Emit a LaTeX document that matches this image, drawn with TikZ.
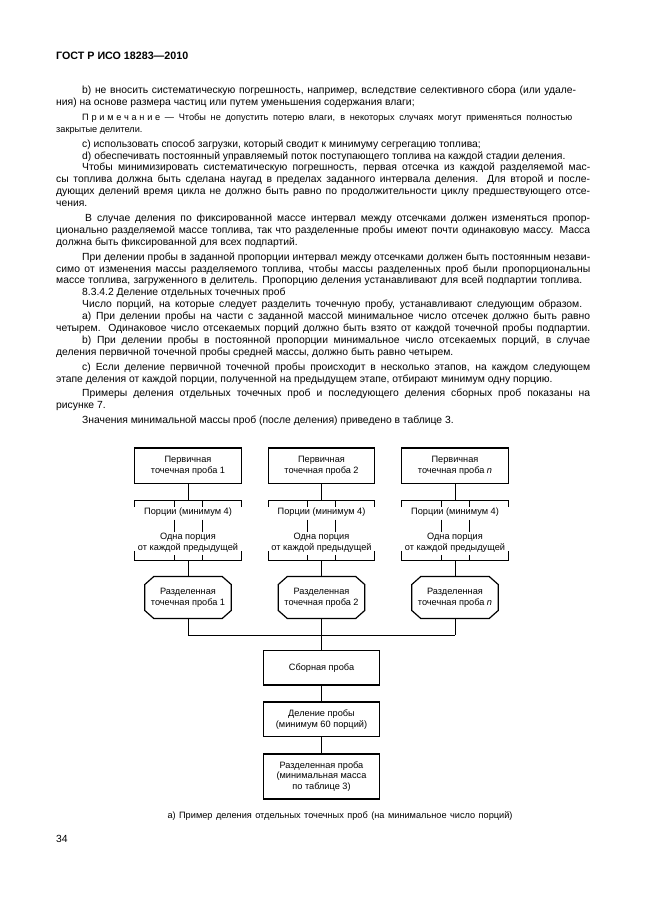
\documentclass[tikz,border=0pt]{standalone}
\usepackage{fontspec}
\setmainfont{Liberation Sans}
\newcommand\bodyfont{\fontsize{10.35}{11.9}\selectfont}
\newcommand\notefont{\fontsize{9.2}{11}\selectfont}
\newcommand\boxfont{\fontsize{9.2}{10.6}\selectfont}
\newcommand\fullline[2][534pt]{\makebox[#1][s]{#2}}
\newcommand\ind{\hspace*{26pt}}

\tikzset{
  txtline/.style={anchor=base west, inner sep=0pt, font=\bodyfont},
  noteline/.style={txtline, font=\notefont},
  boxline/.style={draw, line width=1.2pt},
  firstbox/.style={boxline, minimum width=106.7pt, minimum height=35.3pt, inner sep=0pt, align=center, font=\boxfont},
  sumbox/.style={firstbox, minimum width=116pt, minimum height=34.3pt},
  octbox/.style={minimum width=86pt, minimum height=41.6pt, inner sep=0pt, align=center, font=\boxfont},
  wordbox/.style={inner sep=0pt, align=center, font=\boxfont},
  link/.style={line width=0.9pt},
}

\begin{document}
\begin{tikzpicture}[x=1pt, y=-1pt]
	\fill[white] (0,0) rectangle (646,913);
	\useasboundingbox (0,0) rectangle (646,913);
	\node[txtline, font=\fontsize{10.7}{12}\selectfont\bfseries] (head) at (56,59) {ГОСТ Р ИСО 18283—2010};
	% text of the page
	\node[txtline] (t1) at (56,93.6) {\fullline[520pt]{\ind b) не вносить систематическую погрешность, например, вследствие селективного сбора (или удале-}};
	\node[txtline] (t2) at (56,105.5) {ния) на основе размера частиц или путем уменьшения содержания влаги;};
	\node[noteline] (t3) at (56,120.4) {\fullline[516pt]{\ind{\addfontfeature{LetterSpace=30}Примечание} — Чтобы не допустить потерю влаги, в некоторых случаях могут применяться полностью}};
	\node[noteline] (t4) at (56,132.3) {закрытые делители.};
	\node[txtline] (t5) at (56,147.1) {\ind c) использовать способ загрузки, который сводит к минимуму сегрегацию топлива;};
	\node[txtline] (t6) at (56,159) {\ind d) обеспечивать постоянный управляемый поток поступающего топлива на каждой стадии деления.};
	\node[txtline] (t7) at (56,170.9) {\fullline{\ind Чтобы минимизировать систематическую погрешность, первая отсечка из каждой разделяемой мас-}};
	\node[txtline] (t8) at (56,182.8) {\fullline{сы топлива должна быть сделана наугад в пределах заданного интервала деления. Для второй и после-}};
	\node[txtline] (t9) at (56,194.7) {\fullline{дующих делений время цикла не должно быть равно по продолжительности циклу предшествующего отсе-}};
	\node[txtline] (t10) at (56,206.6) {чения.};
	\node[txtline] (t11) at (56,221.5) {\fullline{\ind\hspace*{3pt}В случае деления по фиксированной массе интервал между отсечками должен изменяться пропор-}};
	\node[txtline] (t12) at (56,233.4) {\fullline{ционально разделяемой массе топлива, так что разделенные пробы имеют почти одинаковую массу. Масса}};
	\node[txtline] (t13) at (56,245.3) {должна быть фиксированной для всех подпартий.};
	\node[txtline] (t14) at (56,260.1) {\fullline{\ind При делении пробы в заданной пропорции интервал между отсечками должен быть постоянным незави-}};
	\node[txtline] (t15) at (56,272) {\fullline{симо от изменения массы разделяемого топлива, чтобы массы разделенных проб были пропорциональны}};
	\node[txtline] (t16) at (56,283.9) {\fullline[526pt]{массе топлива, загруженного в делитель. Пропорцию деления устанавливают для всей подпартии топлива.}};
	\node[txtline] (t17) at (56,295.8) {\ind 8.3.4.2 Деление отдельных точечных проб};
	\node[txtline] (t18) at (56,307.7) {\fullline[526pt]{\ind Число порций, на которые следует разделить точечную пробу, устанавливают следующим образом.}};
	\node[txtline] (t19) at (56,319.6) {\fullline{\ind а) При делении пробы на части с заданной массой минимальное число отсечек должно быть равно}};
	\node[txtline] (t20) at (56,331.5) {\fullline{четырем. Одинаковое число отсекаемых порций должно быть взято от каждой точечной пробы подпартии.}};
	\node[txtline] (t21) at (56,343.4) {\fullline{\ind b) При делении пробы в постоянной пропорции минимальное число отсекаемых порций, в случае}};
	\node[txtline] (t22) at (56,355.3) {деления первичной точечной пробы средней массы, должно быть равно четырем.};
	\node[txtline] (t23) at (56,370.2) {\fullline{\ind с) Если деление первичной точечной пробы происходит в несколько этапов, на каждом следующем}};
	\node[txtline] (t24) at (56,382.1) {этапе деления от каждой порции, полученной на предыдущем этапе, отбирают минимум одну порцию.};
	\node[txtline] (t25) at (56,396.9) {\fullline{\ind Примеры деления отдельных точечных проб и последующего деления сборных проб показаны на}};
	\node[txtline] (t26) at (56,408.8) {рисунке 7.};
	\node[txtline] (t27) at (56,423.7) {\ind Значения минимальной массы проб (после деления) приведено в таблице 3.};
	% figure 7 a)
	\foreach \i/\x/\lbl in {1/188/1, 2/321.5/2, 3/455/{\textit{n}}} {
		\node[firstbox] (prim\i) at (\x,465.7) {Первичная\\точечная проба \lbl};
		\coordinate (bt\i) at (\x,500);
		\node[wordbox] (por\i) at (\x,512.5) {Порции (минимум 4)};
		\node[wordbox] (odn\i) at (\x,543) {Одна порция\\от каждой предыдущей};
		\coordinate (bb\i) at (\x,560);
		\node[octbox] (raz\i) at (\x,597.5) {Разделенная\\точечная проба \lbl};
		\coordinate (j\i) at (\x,635);
		\draw[boxline] ([xshift=9pt]raz\i.north west) -- ([xshift=-9pt]raz\i.north east) -- ([yshift=-8pt]raz\i.north east) -- ([yshift=8pt]raz\i.south east)
			-- ([xshift=-9pt]raz\i.south east) -- ([xshift=9pt]raz\i.south west) -- ([yshift=8pt]raz\i.south west) -- ([yshift=-8pt]raz\i.north west) -- cycle;
		\draw[link] (prim\i) -- (bt\i);
		\draw[link] ({\x-53.3},506.5) -- ({\x-53.3},500) -- ({\x+53.3},500) -- ({\x+53.3},506.5);
		\draw[link] ({\x-14},500) -- ({\x-14},506.5) ({\x+14},500) -- ({\x+14},506.5);
		\draw[link] ({\x-14},519.5) -- ({\x-14},531.5) ({\x+14},519.5) -- ({\x+14},531.5);
		\draw[link] ({\x-53.3},551) -- ({\x-53.3},560) -- ({\x+53.3},560) -- ({\x+53.3},551);
		\draw[link] ({\x-14},555) -- ({\x-14},560) ({\x+14},555) -- ({\x+14},560);
		\draw[link] (bb\i) -- (raz\i);
		\draw[link] (raz\i) -- (j\i);
	}
	\node[sumbox] (sbor) at (321.5,667.9) {Сборная проба};
	\node[sumbox, minimum height=34.7pt] (del) at (321.5,719.3) {Деление пробы\\(минимум 60 порций)};
	\node[sumbox, minimum height=45pt] (razd) at (321.5,776.5) {Разделенная проба\\(минимальная масса\\по таблице 3)};
	\draw[link] (j1) -- (j3);
	\draw[link] (j2) -- (sbor);
	\draw[link] (sbor) -- (del);
	\draw[link] (del) -- (razd);
	\node[txtline, anchor=base, font=\boxfont] (cap) at (340,818.5) {\fullline[345pt]{а) Пример деления отдельных точечных проб (на минимальное число порций)}};
	\node[txtline] (pg) at (56,842.5) {34};
\end{tikzpicture}
\end{document}
